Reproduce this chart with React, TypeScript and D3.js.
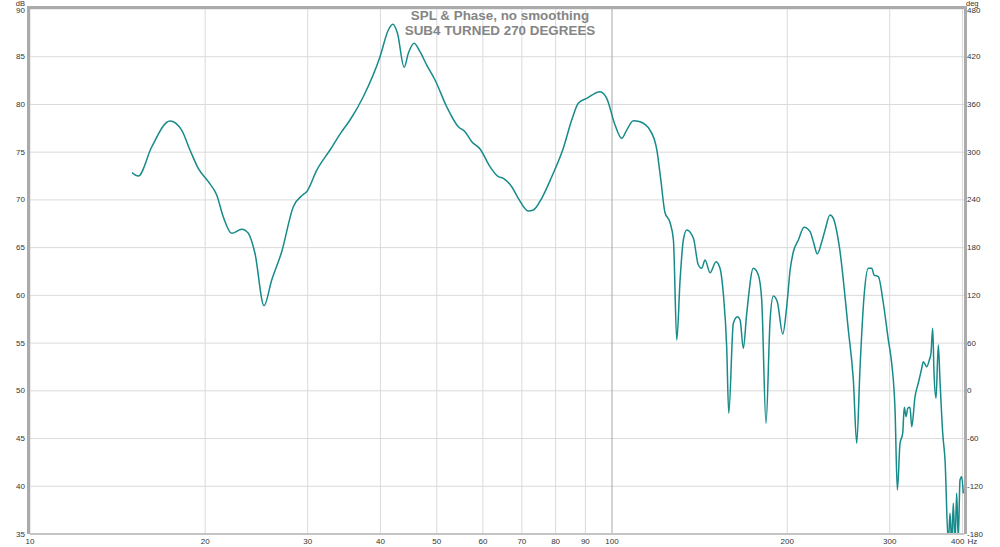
import React from "react";
import * as d3 from "d3";

const freqHz = [
  14.97, 15.35, 16.19, 17.4, 18.22, 18.83, 19.46, 20.25, 20.93, 21.48, 22.21, 23.11, 23.72, 24.35, 25.24, 26.02, 27.07, 28.34, 29.41, 29.88,
  31.1, 32.77, 34.32, 35.47, 37.38, 39.94, 41.27, 42.02, 42.79, 43.94, 44.67, 45.69, 46.78, 48.04, 49.65, 52.0, 54.44, 55.9, 57.41, 59.33,
  61.72, 63.78, 65.05, 67.25, 69.02, 71.81, 73.25, 75.72, 78.78, 82.47, 85.26, 87.52, 90.48, 95.38, 97.93, 101.2, 103.9, 106.0, 108.8, 111.7,
  116.2, 119.4, 121.3, 123.3, 125.8, 127.5, 129.2, 130.9, 132.6, 134.4, 138.0, 140.7, 142.6, 144.5, 147.4, 150.9, 153.3, 155.3, 157.4, 158.7,
  161.6, 164.2, 166.0, 168.1, 170.4, 174.9, 178.4, 180.8, 183.9, 186.9, 189.3, 192.3, 196.5, 199.6, 202.3, 204.9, 209.0, 213.8, 218.9, 221.8,
  225.3, 229.3, 232.3, 236.9, 240.0, 245.8, 254.7, 259.8, 263.3, 266.8, 271.0, 275.7, 279.4, 282.0, 286.8, 292.5, 298.4, 302.4, 306.4, 309.2,
  312.5, 315.8, 317.8, 320.0, 322.2, 325.1, 327.3, 331.6, 335.9, 340.5, 342.6, 347.3, 350.9, 353.2, 355.6, 357.5, 360.3, 363.6, 366.0, 370.0,
  373.4, 378.3, 380.8, 383.4, 385.8, 388.4, 391.0, 393.5, 396.2, 398.8, 401.4,
];

const splDb = [
  72.85, 72.5, 75.57, 78.27, 77.32, 75.23, 73.31, 71.91, 70.51, 68.24, 66.5, 66.92, 66.5, 64.41, 58.92, 61.61, 64.57, 69.29, 70.51, 70.86,
  73.13, 75.23, 77.15, 78.37, 80.81, 85.0, 87.8, 88.4, 87.45, 83.89, 85.36, 86.41, 85.53, 84.13, 82.56, 79.76, 77.67, 77.15, 76.1, 75.33,
  73.48, 72.43, 72.26, 71.38, 70.17, 68.84, 68.94, 70.17, 72.43, 75.41, 78.37, 80.12, 80.64, 81.34, 80.64, 77.85, 76.45, 77.32, 78.3, 78.19,
  77.32, 75.23, 72.09, 68.68, 67.63, 65.8, 55.32, 61.61, 65.8, 66.85, 65.98, 63.18, 62.84, 63.7, 62.37, 63.53, 62.84, 60.22, 54.62, 47.64,
  57.07, 57.77, 57.42, 54.45, 58.12, 62.84, 62.13, 59.51, 46.6, 57.42, 59.93, 59.34, 55.95, 58.81, 62.66, 64.57, 65.8, 67.13, 66.67, 65.62,
  64.33, 65.62, 66.85, 68.42, 68.07, 65.1, 56.37, 51.13, 44.5, 52.53, 59.86, 62.84, 62.84, 62.13, 61.96, 59.2, 55.32, 52.88, 47.99, 39.61,
  44.5, 45.55, 48.27, 47.29, 48.17, 48.27, 46.24, 49.38, 50.79, 52.36, 53.05, 52.53, 53.23, 53.93, 56.55, 51.84, 49.22, 54.8, 51.13, 45.55,
  42.75, 34.0, 37.17, 34.0, 38.22, 34.0, 39.26, 34.5, 40.66, 41.0, 39.26,
];

const freqTicks = [10, 20, 30, 40, 50, 60, 70, 80, 90, 100, 200, 300, 400];
const freqLabels = ["10", "20", "30", "40", "50", "60", "70", "80", "90", "100", "200", "300", "400"];
const dbTicks = [35, 40, 45, 50, 55, 60, 65, 70, 75, 80, 85, 90];
const degTicks = [-180, -120, -60, 0, 60, 120, 180, 240, 300, 360, 420, 480];
const titleLines = ["SPL & Phase, no smoothing", "SUB4 TURNED 270 DEGREES"];

const W = 1000;
const H = 547;
const L = 30;
const R = 964;
const T = 9;
const B = 534;

export default function App() {
  const x = d3.scaleLog().domain([10, 402.5]).range([L, R]);
  const y = d3.scaleLinear().domain([35, 90]).range([B, T]);
  const yDeg = d3.scaleLinear().domain([-180, 480]).range([B, T]);
  const pts: [number, number][] = freqHz.map((f, i) => [f, splDb[i]]);
  const line = d3
    .line<[number, number]>()
    .x((d) => x(d[0]))
    .y((d) => y(d[1]))
    .curve(d3.curveMonotoneX);
  const font = "'Liberation Sans', Arial, sans-serif";
  return (
    <svg
      width={W}
      height={H}
      style={{ position: "absolute", left: 0, top: 0, background: "#fff" }}
      fontFamily={font}
    >
      <defs>
        <clipPath id="plotclip">
          <rect x={L} y={T} width={R - L} height={B - T} />
        </clipPath>
      </defs>
      <rect x={0} y={0} width={W} height={H} fill="#fff" />
      {dbTicks.map((t) => (
        <line key={"h" + t} x1={L} x2={R} y1={y(t)} y2={y(t)} stroke="#dadada" strokeWidth={1} />
      ))}
      {freqTicks.map((t) => (
        <line
          key={"v" + t}
          x1={x(t)}
          x2={x(t)}
          y1={T}
          y2={B}
          stroke={t === 100 ? "#a8a8a8" : "#dadada"}
          strokeWidth={1}
        />
      ))}
      <text x={500} y={20} textAnchor="middle" fontSize={13.4} fontWeight="bold" fill="#858585">
        {titleLines[0]}
      </text>
      <text x={500} y={35} textAnchor="middle" fontSize={13.4} fontWeight="bold" fill="#858585">
        {titleLines[1]}
      </text>
      <g clipPath="url(#plotclip)">
        <path d={line(pts) || ""} fill="none" stroke="#178a8a" strokeWidth={1.5} strokeLinejoin="round" />
      </g>
      <line x1={L} x2={R} y1={B} y2={B} stroke="#c4c4c4" strokeWidth={2} />
      <path d={`M${L - 1.5},${B} V${T - 1.5} H${R + 1.5} V${B}`} fill="none" stroke="#ababab" strokeWidth={3} />
      {dbTicks.map((t) => (
        <text
          key={"l" + t}
          x={25}
          y={t === 90 ? y(t) + 1.5 : y(t)}
          textAnchor="end"
          dominantBaseline="central"
          fontSize={8}
          fill="#333"
        >
          {t}
        </text>
      ))}
      <text x={25} y={6} textAnchor="end" fontSize={7.5} fill="#333">
        dB
      </text>
      {degTicks.map((t) => (
        <text
          key={"r" + t}
          x={967}
          y={t === 480 ? yDeg(t) + 1.5 : yDeg(t)}
          textAnchor="start"
          dominantBaseline="central"
          fontSize={8}
          fill="#333"
        >
          {t}
        </text>
      ))}
      <text x={966} y={6} textAnchor="start" fontSize={7.5} fill="#333">
        deg
      </text>
      {freqTicks.map((t, i) => (
        <text
          key={"b" + t}
          x={t === 400 ? x(t) + 2 : x(t)}
          y={541}
          textAnchor={t === 400 ? "end" : "middle"}
          dominantBaseline="central"
          fontSize={8}
          fill="#333"
        >
          {freqLabels[i]}
        </text>
      ))}
      <text x={x(400) + 5} y={541} textAnchor="start" dominantBaseline="central" fontSize={8} fill="#333">
        Hz
      </text>
    </svg>
  );
}
